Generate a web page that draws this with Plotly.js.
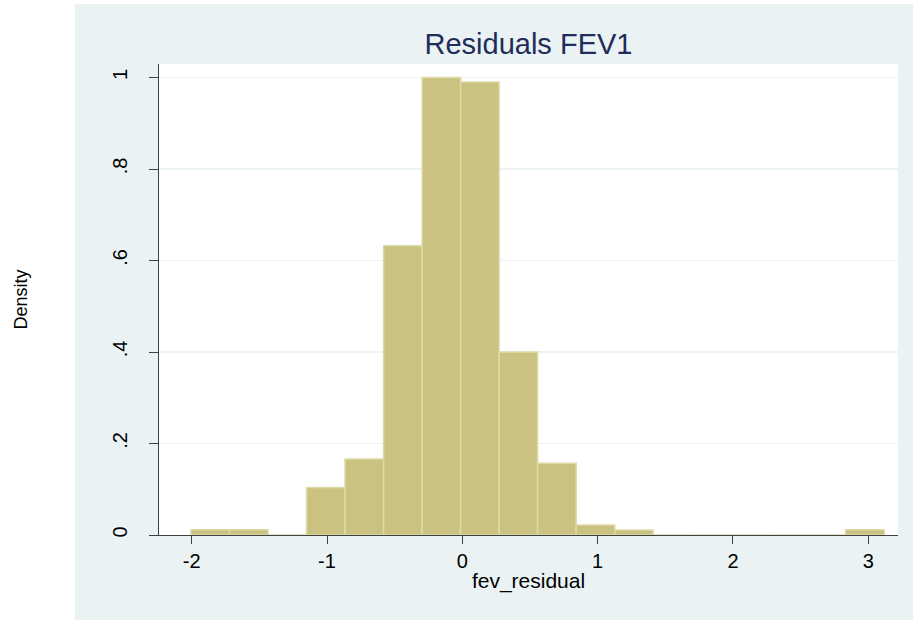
<!DOCTYPE html>
<html>
<head>
<meta charset="utf-8">
<script src="https://cdn.plot.ly/plotly-3.0.1.min.js"></script>
<style>html,body{margin:0;padding:0;background:#fff;}#chart{width:913px;height:620px;}</style>
</head>
<body>
<div id="chart"></div>
<script>
// Histogram of fev_residual (density), bins
const binEdges = [-2.005, -1.720, -1.436, -1.151, -0.867, -0.582, -0.297, -0.013, 0.272, 0.556, 0.841, 1.126, 1.410, 1.695, 1.979, 2.264, 2.548, 2.833, 3.118];
const density = [0.0115, 0.0115, 0, 0.104, 0.166, 0.632, 1.000, 0.990, 0.400, 0.157, 0.022, 0.011, 0, 0, 0, 0, 0, 0.0115];
const xTicks = [-2, -1, 0, 1, 2, 3];
const xTickText = ['-2', '-1', '0', '1', '2', '3'];
const yTicks = [0, 0.2, 0.4, 0.6, 0.8, 1];
const yTickText = ['0', '.2', '.4', '.6', '.8', '1'];
const chartTitle = 'Residuals FEV1';
const xTitle = 'fev_residual';
const yTitle = 'Density';

const centers = density.map((d, i) => (binEdges[i] + binEdges[i + 1]) / 2);
const widths = density.map((d, i) => binEdges[i + 1] - binEdges[i]);

const font = 'Liberation Sans, Arial, Helvetica, sans-serif';
const panel = '#eaf2f3';

const trace = {
  type: 'bar',
  x: centers,
  y: density,
  width: widths,
  marker: { color: 'rgb(201,194,128)', line: { color: 'rgb(222,218,168)', width: 1.5 } },
  hoverinfo: 'x+y'
};

const layout = {
  width: 913, height: 620,
  margin: { l: 159, r: 15, t: 64, b: 85 },
  paper_bgcolor: panel,
  plot_bgcolor: '#ffffff',
  showlegend: false,
  bargap: 0,
  font: { family: font, color: '#000', size: 20 },
  title: {
    text: chartTitle,
    font: { family: font, size: 29, color: 'rgb(30,45,90)' },
    xref: 'paper', x: 0.5, xanchor: 'center',
    yref: 'container', y: 1 - 44 / 620, yanchor: 'middle'
  },
  xaxis: {
    range: [-2.2416, 3.2195],
    tickmode: 'array', tickvals: xTicks, ticktext: xTickText,
    ticks: 'outside', ticklen: 8, tickwidth: 1, tickcolor: '#404040',
    showline: true, linecolor: '#404040', linewidth: 1,
    showgrid: false, zeroline: false,
    tickfont: { family: font, size: 20, color: '#000' },
    title: { text: xTitle, font: { family: font, size: 21, color: '#000' }, standoff: 2 }
  },
  yaxis: {
    range: [0, 1.0295],
    tickmode: 'array', tickvals: yTicks, ticktext: yTickText,
    tickangle: -90,
    ticklabelstandoff: 14,
    ticks: 'outside', ticklen: 9, tickwidth: 1, tickcolor: '#404040',
    showline: true, linecolor: '#404040', linewidth: 1,
    showgrid: true, gridcolor: panel, gridwidth: 1.5,
    zeroline: false,
    tickfont: { family: font, size: 20, color: '#000' },
    title: { text: yTitle, font: { family: font, size: 18, color: '#000' }, standoff: 76 }
  },
  shapes: [
    { type: 'rect', xref: 'paper', yref: 'paper', x0: -0.4, x1: (75 - 159) / 739, y0: -0.4, y1: 1.4,
      fillcolor: '#ffffff', line: { width: 0 }, layer: 'below' },
    { type: 'rect', xref: 'paper', yref: 'paper', x0: -0.4, x1: 1.4, y0: (535 - 4) / 471, y1: 1.4,
      fillcolor: '#ffffff', line: { width: 0 }, layer: 'below' }
  ]
};

Plotly.newPlot('chart', [trace], layout, { displayModeBar: false, staticPlot: true });
</script>
</body>
</html>
